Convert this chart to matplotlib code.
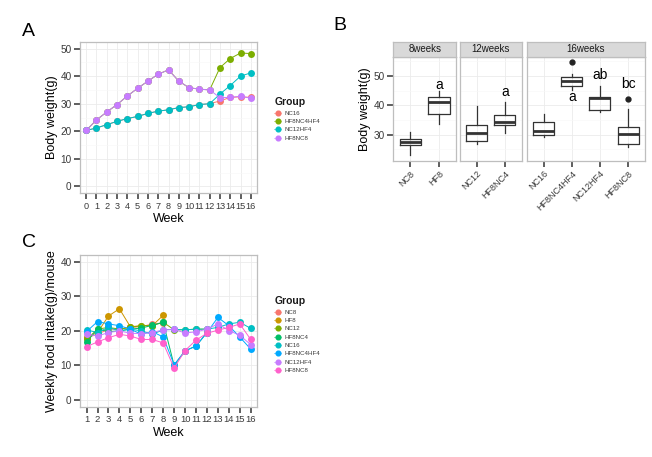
import matplotlib
matplotlib.use("Agg")
import matplotlib.pyplot as plt
from matplotlib.lines import Line2D
import numpy as np

plt.rcParams["font.family"] = ["Liberation Sans", "DejaVu Sans"]

W, H = 652, 457

# ---------- panel A: body weight ----------
weeks_a = list(range(17))
groups_a = ["NC16", "HF8NC4HF4", "NC12HF4", "HF8NC8"]
colors_a = ["#F8766D", "#7CAE00", "#00BFC4", "#C77CFF"]
bw_nc16 = [20.3, 21.2, 22.4, 23.6, 24.6, 25.4, 26.5, 27.3, 27.8, 28.6, 28.9, 29.7, 30.0, 31.0, 32.3, 32.5, 32.3]
bw_hf8nc4hf4 = [20.3, 24.1, 27.0, 29.7, 32.8, 35.6, 38.2, 40.7, 42.3, 38.2, 35.8, 35.3, 35.0, 43.1, 46.4, 48.4, 48.2]
bw_nc12hf4 = [20.3, 21.2, 22.4, 23.6, 24.6, 25.4, 26.5, 27.3, 27.8, 28.6, 28.9, 29.7, 30.0, 33.5, 36.6, 40.0, 41.2]
bw_hf8nc8 = [20.3, 24.1, 27.0, 29.7, 32.8, 35.6, 38.2, 40.7, 42.3, 38.2, 35.8, 35.3, 35.0, 32.2, 32.3, 32.7, 32.0]

# ---------- panel B: boxplots ----------
facets = ["8weeks", "12weeks", "16weeks"]
box_groups = [["NC8", "HF8"], ["NC12", "HF8NC4"], ["NC16", "HF8NC4HF4", "NC12HF4", "HF8NC8"]]
box_whislo = [[23.0, 33.6], [26.8, 30.7], [29.1, 45.4, 37.7, 25.7]]
box_q1 = [[26.3, 37.1], [27.7, 33.4], [29.9, 46.5, 38.4, 26.8]]
box_med = [[27.4, 41.2], [30.7, 34.2], [31.2, 48.4, 42.5, 30.2]]
box_q3 = [[28.5, 42.7], [33.2, 36.8], [34.3, 49.6, 42.9, 32.7]]
box_whishi = [[30.9, 44.8], [39.8, 41.0], [37.1, 50.7, 46.5, 38.9]]
box_fliers = [[[], []], [[], []], [[], [54.9], [], [42.1]]]
sig_letters = [[None, ("a", 47.0)], [None, ("a", 44.5)],
               [None, ("a", 42.8), ("ab", 50.3), ("bc", 47.3)]]

# ---------- panel C: food intake ----------
weeks_c = list(range(1, 17))
groups_c = ["NC8", "HF8", "NC12", "HF8NC4", "NC16", "HF8NC4HF4", "NC12HF4", "HF8NC8"]
colors_c = ["#F8766D", "#CD9600", "#7CAE00", "#00BE67", "#00BFC4", "#00A9FF", "#C77CFF", "#FF61CC"]
fi_nc8 = [18.0, 19.0, 20.5, 20.5, 21.0, 21.2, 22.0, 22.3]
fi_hf8 = [18.2, 19.5, 24.3, 26.4, 21.2, 21.5, 21.5, 24.5]
fi_nc12 = [17.5, 20.5, 21.0, 20.5, 21.0, 21.5, 21.5, 22.5, 20.3, 20.3, 20.5, 20.5]
fi_hf8nc4 = [16.8, 20.5, 19.8, 20.0, 20.5, 20.8, 21.6, 22.5, 10.0, 14.2, 15.6, 19.5]
fi_nc16 = [20.3, 19.5, 21.0, 20.0, 20.5, 20.0, 19.0, 20.3, 20.4, 20.3, 20.5, 20.5, 21.0, 22.0, 22.5, 20.7]
fi_hf8nc4hf4 = [19.8, 22.7, 22.0, 21.5, 20.5, 19.0, 19.8, 18.2, 10.2, 14.2, 15.6, 19.5, 23.9, 21.5, 18.2, 14.7]
fi_nc12hf4 = [19.1, 18.5, 19.5, 20.0, 19.3, 19.2, 19.5, 20.3, 20.4, 19.4, 19.7, 20.5, 22.0, 20.1, 18.7, 16.0]
fi_hf8nc8 = [15.4, 16.8, 18.0, 19.0, 18.5, 17.5, 17.5, 16.5, 9.2, 14.3, 17.3, 19.3, 20.2, 21.0, 22.0, 17.5]

TXT = "#3a3a3a"
GRID = "#EBEBEB"


def px_axes(fig, left, top, right, bottom):
    return fig.add_axes([left / W, 1 - bottom / H, (right - left) / W, (bottom - top) / H])


def style_ax(ax):
    ax.set_facecolor("white")
    for s in ax.spines.values():
        s.set_color("#BEBEBE")
        s.set_linewidth(0.9)
    ax.tick_params(length=4, width=1.1, color="#333333", labelsize=7.2,
                   labelcolor=TXT, pad=2)
    ax.grid(True, which="major", color=GRID, lw=0.6)
    ax.grid(True, which="minor", color="#F7F7F7", lw=0.4)
    ax.set_axisbelow(True)


def group_legend(fig, labels, colors, x, y):
    handles = [Line2D([0], [0], color=c, marker="o", markersize=3.4, lw=0.4) for c in colors]
    leg = fig.legend(handles, labels, loc="upper left", bbox_to_anchor=(x / W, 1 - y / H),
                     frameon=False, fontsize=4.4, title="Group", handlelength=1.0,
                     labelspacing=0.5, handletextpad=0.6, borderaxespad=0,
                     alignment="left")
    leg.get_title().set_fontsize(7.5)
    leg.get_title().set_fontweight("bold")
    leg.get_title().set_color("#1a1a1a")
    for t in leg.get_texts():
        t.set_color(TXT)


fig = plt.figure(figsize=(W / 100, H / 100), dpi=100)
fig.patch.set_facecolor("white")

# panel A
axA = px_axes(fig, 80, 41.7, 257, 193.3)
style_ax(axA)
for vals, c in zip([bw_nc16, bw_hf8nc4hf4, bw_nc12hf4, bw_hf8nc8], colors_a):
    axA.plot(weeks_a, vals, color=c, lw=0.7, marker="o", markersize=5.0, markeredgewidth=0)
axA.set_xlim(-0.6, 16.6)
axA.set_ylim(-2.5, 52.5)
axA.set_xticks(weeks_a)
axA.tick_params(axis="x", labelsize=6.6)
axA.set_yticks([0, 10, 20, 30, 40, 50])
axA.set_yticks([5, 15, 25, 35, 45], minor=True)
axA.tick_params(which="minor", length=0)
axA.set_xlabel("Week", fontsize=9, labelpad=2)
axA.set_ylabel("Body weight(g)", fontsize=9, labelpad=2)
group_legend(fig, groups_a, colors_a, 272, 95)
fig.text(22 / W, 1 - 32 / H, "A", fontsize=14, va="center")

# panel B
facet_px = [(393.3, 456), (460, 521.7), (526.7, 645)]
for i, (l, r) in enumerate(facet_px):
    ax = px_axes(fig, l, 56.7, r, 160.7)
    style_ax(ax)
    n = len(box_groups[i])
    stats = []
    for j in range(n):
        stats.append(dict(whislo=box_whislo[i][j], q1=box_q1[i][j], med=box_med[i][j],
                          q3=box_q3[i][j], whishi=box_whishi[i][j], fliers=box_fliers[i][j]))
    ax.bxp(stats, positions=np.arange(1, n + 1), widths=0.75, showcaps=False,
           boxprops=dict(color="#333333", lw=0.9),
           whiskerprops=dict(color="#333333", lw=0.9),
           medianprops=dict(color="#333333", lw=2.0),
           flierprops=dict(marker="o", markerfacecolor="#222222", markeredgecolor="#222222",
                           markersize=3.5))
    for j, lab in enumerate(sig_letters[i]):
        if lab:
            ax.text(j + 1, lab[1], lab[0], fontsize=10, ha="center", va="center", color="black")
    ax.set_xlim(0.4, n + 0.6)
    ax.set_ylim(21.1, 56.6)
    ax.set_xticks(np.arange(1, n + 1))
    ax.set_xticklabels(box_groups[i], rotation=45, ha="right", rotation_mode="anchor", fontsize=6.5)
    ax.set_yticks([30, 40, 50])
    ax.set_yticks([25, 35, 45, 55], minor=True)
    ax.tick_params(which="minor", length=0)
    if i == 0:
        ax.set_ylabel("Body weight(g)", fontsize=9, labelpad=2)
    else:
        ax.tick_params(axis="y", length=0, labelleft=False)
    # strip
    st = px_axes(fig, l, 41.7, r, 56.7)
    st.set_facecolor("#D9D9D9")
    st.set_xticks([])
    st.set_yticks([])
    for s in st.spines.values():
        s.set_color("#BEBEBE")
        s.set_linewidth(0.9)
    st.text(0.5, 0.5, facets[i], transform=st.transAxes, ha="center", va="center",
            fontsize=7, color="#1a1a1a")
fig.text(333 / W, 1 - 25 / H, "B", fontsize=14, va="center")

# panel C
axC = px_axes(fig, 80, 255, 257.3, 406.7)
style_ax(axC)
for vals, c in zip([fi_nc8, fi_hf8, fi_nc12, fi_hf8nc4, fi_nc16, fi_hf8nc4hf4, fi_nc12hf4, fi_hf8nc8],
                   colors_c):
    axC.plot(weeks_c[:len(vals)], vals, color=c, lw=0.7, marker="o", markersize=5.0,
             markeredgewidth=0)
axC.set_xlim(0.4, 16.6)
axC.set_ylim(-2, 42)
axC.set_xticks(weeks_c)
axC.tick_params(axis="x", labelsize=6.8)
axC.set_yticks([0, 10, 20, 30, 40])
axC.set_yticks([5, 15, 25, 35], minor=True)
axC.tick_params(which="minor", length=0)
axC.set_xlabel("Week", fontsize=9, labelpad=2)
axC.set_ylabel("Weekly food intake(g)/mouse", fontsize=9, labelpad=2)
group_legend(fig, groups_c, colors_c, 272, 294)
fig.text(22 / W, 1 - 243 / H, "C", fontsize=14, va="center")

fig.savefig("out.png", dpi=100, facecolor="white")
